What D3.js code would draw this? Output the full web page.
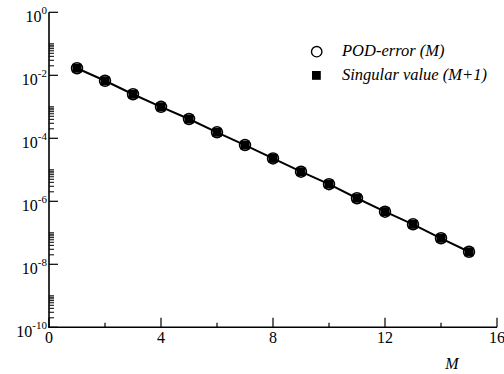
<!DOCTYPE html>
<html><head><meta charset="utf-8">
<script src="https://cdn.jsdelivr.net/npm/d3@7"></script>
<style>html,body{margin:0;padding:0;background:#fff;}</style>
</head>
<body>
<script>
const modes = [1,2,3,4,5,6,7,8,9,10,11,12,13,14,15];
const podError = [1.67e-2,6.7e-3,2.5e-3,1.0e-3,4.1e-4,1.55e-4,6.1e-5,2.3e-5,8.7e-6,3.5e-6,1.25e-6,4.7e-7,1.86e-7,6.7e-8,2.5e-8];
const singularValue = [1.67e-2,6.7e-3,2.5e-3,1.0e-3,4.1e-4,1.55e-4,6.1e-5,2.3e-5,8.7e-6,3.5e-6,1.25e-6,4.7e-7,1.86e-7,6.7e-8,2.5e-8];
const xMajorTicks = [0,4,8,12,16];
const xMinorTicks = [2,6,10,14];
const yMajorExps = [0,-2,-4,-6,-8,-10];
const legendLabels = ["POD-error (M)","Singular value (M+1)"];
const xTitle = "M";

const FONT="'Liberation Serif'";
const W=504,H=374;
const svg=d3.select("body").append("svg").attr("width",W).attr("height",H).style("display","block");
const x=d3.scaleLinear().domain([0,16]).range([49,497]);
const y=d3.scaleLog().domain([1e-10,1]).range([327.3,12.3]);

const yMinor=[];
yMajorExps.filter(e=>e<0).forEach(e=>{for(let k=2;k<=10;k++) yMinor.push(k*Math.pow(10,e));});

const g=svg.append("g");
g.append("line").attr("x1",x(0)).attr("x2",x(0)).attr("y1",y(1)).attr("y2",y(1e-10)).attr("stroke","#000").attr("stroke-width",1.6);
g.append("line").attr("x1",x(0)-0.8).attr("x2",x(16)).attr("y1",y(1e-10)).attr("y2",y(1e-10)).attr("stroke","#000").attr("stroke-width",1.6);

yMajorExps.forEach(e=>{
  const v=Math.pow(10,e);
  g.append("line").attr("x1",x(0)).attr("x2",x(0)+9).attr("y1",y(v)).attr("y2",y(v)).attr("stroke","#000").attr("stroke-width",1.2);
  const t=g.append("text").attr("x",x(0)-2).attr("y",y(v)+10).attr("text-anchor","end").attr("font-size",16).style("font-family",FONT).attr("fill","#000");
  t.append("tspan").text("10");
  t.append("tspan").attr("font-size",11).attr("dy",-8).text(String(e));
});
yMinor.forEach(v=>{
  g.append("line").attr("x1",x(0)).attr("x2",x(0)+5).attr("y1",y(v)).attr("y2",y(v)).attr("stroke","#000").attr("stroke-width",1);
});
xMajorTicks.forEach(v=>{
  g.append("line").attr("x1",x(v)).attr("x2",x(v)).attr("y1",y(1e-10)).attr("y2",y(1e-10)-9.5).attr("stroke","#000").attr("stroke-width",1.2);
  g.append("text").attr("x",x(v)).attr("y",y(1e-10)+16).attr("text-anchor","middle").attr("font-size",16).style("font-family",FONT).text(v);
});
xMinorTicks.forEach(v=>{
  g.append("line").attr("x1",x(v)).attr("x2",x(v)).attr("y1",y(1e-10)).attr("y2",y(1e-10)-4.5).attr("stroke","#000").attr("stroke-width",1.2);
});
g.append("text").attr("x",452).attr("y",369).attr("text-anchor","middle").attr("font-size",16).style("font-family",FONT).style("font-style","italic").text(xTitle);

const line=d3.line().x((d,i)=>x(modes[i])).y(d=>y(d));
g.append("path").datum(podError).attr("d",line).attr("fill","none").attr("stroke","#000").attr("stroke-width",2);

g.selectAll("rect.sv").data(singularValue).enter().append("rect").attr("class","sv")
 .attr("x",(d,i)=>x(modes[i])-4.5).attr("y",d=>y(d)-4.5).attr("width",9).attr("height",9).attr("fill","#000");
g.selectAll("circle.pod").data(podError).enter().append("circle").attr("class","pod")
 .attr("cx",(d,i)=>x(modes[i])).attr("cy",d=>y(d)).attr("r",5.5).attr("fill","none").attr("stroke","#000").attr("stroke-width",1.5);

const lg=svg.append("g");
lg.append("circle").attr("cx",316.7).attr("cy",51.7).attr("r",5.2).attr("fill","#fff").attr("stroke","#000").attr("stroke-width",1.4);
lg.append("rect").attr("x",312).attr("y",71).attr("width",8.8).attr("height",8.8).attr("fill","#000");
lg.append("text").attr("x",342).attr("y",56).attr("font-size",16.5).style("font-family",FONT).style("font-style","italic").text(legendLabels[0]);
lg.append("text").attr("x",342).attr("y",79.5).attr("font-size",16.5).style("font-family",FONT).style("font-style","italic").text(legendLabels[1]);
</script>
</body></html>
